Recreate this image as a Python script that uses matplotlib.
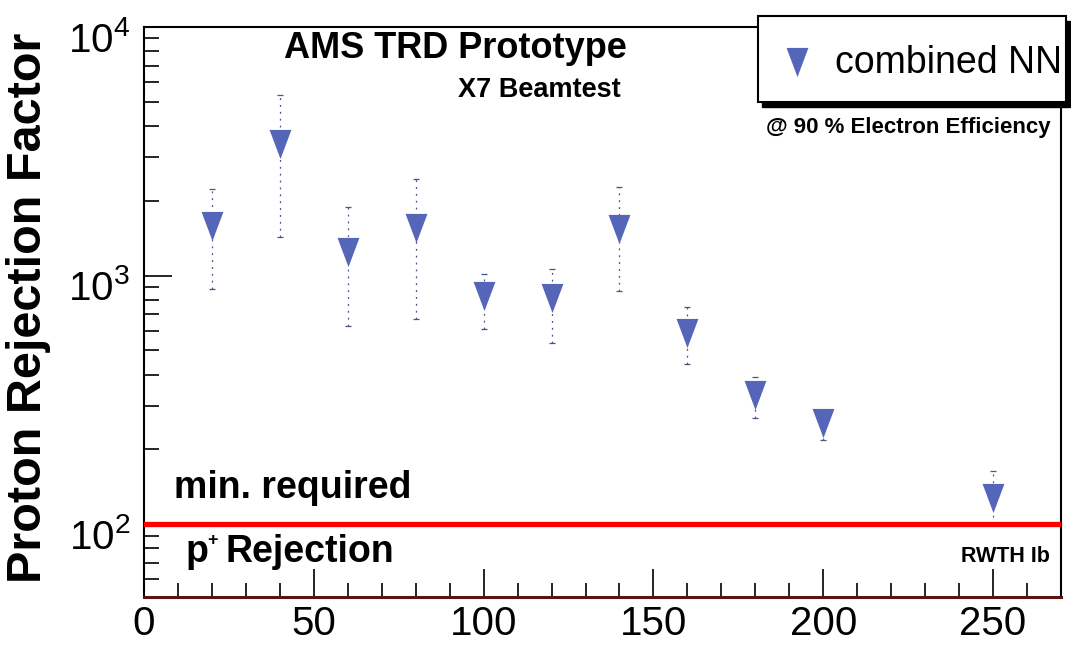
import matplotlib
matplotlib.use("Agg")
import matplotlib.pyplot as plt
from matplotlib.patches import Rectangle
from matplotlib.ticker import FixedLocator, LogLocator, NullFormatter
from matplotlib.transforms import ScaledTranslation
import numpy as np

# beam energy (GeV) and proton rejection at 90 % electron efficiency
energy = [20, 40, 60, 80, 100, 120, 140, 160, 180, 200, 250]
rejection = [1590, 3370, 1250, 1560, 825, 810, 1540, 590, 330, 255, 128]
err_up = [2230, 5350, 1890, 2440, 1020, 1060, 2270, 750, 390, 285, 164]
err_down = [880, 1430, 625, 670, 610, 535, 865, 440, 268, 218, 100]
min_required = 100

W, H = 1071, 646
plt.rcParams["font.family"] = ["Liberation Sans", "DejaVu Sans"]
plt.rcParams["mathtext.fontset"] = "custom"
plt.rcParams["mathtext.rm"] = "Liberation Sans"
plt.rcParams["mathtext.bf"] = "Liberation Sans:bold"

BLUE = "#5566b8"
tri = [(-0.75, 1.0), (0.75, 1.0), (0.0, -1.0)]


def fx(px):
    return px / W


def fy(py):
    return 1 - py / H


fig = plt.figure(figsize=(W / 100, H / 100), dpi=100)
ax = fig.add_axes([fx(144), fy(597), fx(1061) - fx(144), fy(27) - fy(597)])

x = np.array(energy, dtype=float)
y = np.array(rejection, dtype=float)
yerr = np.vstack([y - np.array(err_down), np.array(err_up) - y])
eb = ax.errorbar(x, y, yerr=yerr, fmt="none", ecolor="#4a5388", elinewidth=0.9,
                 capsize=2, capthick=0.9, zorder=2)
for line in eb[2]:
    line.set_linestyle((0, (1.5, 4)))
ax.plot(x, y, linestyle="none", marker=tri, markersize=21, color=BLUE,
        markeredgewidth=0, zorder=3)

ax.axhline(min_required, color="#ff0000", lw=3.8, zorder=4)

ax.set_xlim(0, 270)
ax.set_yscale("log")
ax.set_ylim(51, 10000)

ax.xaxis.set_major_locator(FixedLocator([0, 50, 100, 150, 200, 250]))
ax.xaxis.set_minor_locator(FixedLocator(np.arange(0, 271, 10)))
ax.yaxis.set_major_locator(FixedLocator([100, 1000, 10000]))
ax.yaxis.set_minor_locator(LogLocator(base=10, subs=np.arange(2, 10)))
ax.yaxis.set_minor_formatter(NullFormatter())
ax.set_yticklabels([r"$10^{2}$", r"$10^{3}$", r"$10^{4}$"])
ax.tick_params(axis="both", which="major", direction="in", length=20, width=1.2,
               labelsize=29, colors="black")
ax.tick_params(axis="both", which="minor", direction="in", length=10, width=1.2)
ax.tick_params(axis="y", which="minor", length=11)
ax.tick_params(axis="y", pad=10)
ax.tick_params(axis="x", pad=6)
ax.tick_params(top=False, right=False, which="both")

# ROOT puts the decade labels a little below their ticks
shift = ScaledTranslation(0, -9 / 100, fig.dpi_scale_trans)
for lab in ax.get_yticklabels():
    lab.set_transform(lab.get_transform() + shift)

for s in ax.spines.values():
    s.set_linewidth(1.5)
ax.spines["bottom"].set_color("#5a1414")
ax.spines["bottom"].set_linewidth(2.2)

fig.text(fx(29), fy(308), "Proton Rejection Factor", rotation=90, ha="center",
         va="center", fontsize=35, fontweight="bold")

fig.text(fx(455), fy(48), "AMS TRD Prototype", ha="center", va="center",
         fontsize=26, fontweight="bold")
fig.text(fx(539), fy(90), "X7 Beamtest", ha="center", va="center",
         fontsize=19.5, fontweight="bold")
fig.text(fx(908), fy(128), "@ 90 % Electron Efficiency", ha="center", va="center",
         fontsize=16, fontweight="bold")
fig.text(fx(293), fy(488), "min. required", ha="center", va="center",
         fontsize=27, fontweight="bold")
fig.text(fx(186), fy(562), "p", ha="left", va="baseline", fontsize=27,
         fontweight="bold")
fig.text(fx(207), fy(545), "+", ha="left", va="baseline", fontsize=13,
         fontweight="bold")
fig.text(fx(225), fy(562), "Rejection", ha="left", va="baseline", fontsize=27,
         fontweight="bold")
fig.text(fx(1005), fy(556), "RWTH Ib", ha="center", va="center",
         fontsize=15.5, fontweight="bold")

# legend box with ROOT-style drop shadow
fig.patches.append(Rectangle((fx(762), fy(107)), fx(1066) - fx(758), fy(16) - fy(102),
                             transform=fig.transFigure, facecolor="black",
                             edgecolor="black", zorder=5))
fig.patches.append(Rectangle((fx(758), fy(102)), fx(1066) - fx(758), fy(16) - fy(102),
                             transform=fig.transFigure, facecolor="white",
                             edgecolor="black", lw=1.5, zorder=6))
fig.lines.append(plt.Line2D([fx(797)], [fy(62)], transform=fig.transFigure,
                            marker=tri, markersize=21, color=BLUE, markeredgewidth=0,
                            linestyle="none", zorder=7))
fig.text(fx(835), fy(63), "combined NN", ha="left", va="center", fontsize=27,
         zorder=8)

fig.savefig("out.png", dpi=100)
